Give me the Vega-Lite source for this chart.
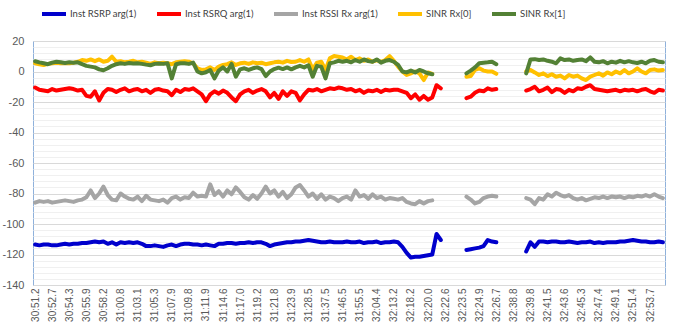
{
"$schema": "https://vega.github.io/schema/vega-lite/v6.json",
"width": 632, "height": 244,
"autosize": {"type": "none"},
"padding": {"left": 33, "top": 41, "right": 8, "bottom": 50},
"background": "white",
"config": {"view": {"stroke": "#8FB1DB", "strokeWidth": 1}, "font": "Liberation Sans"},
"data": {"values": [
{"t":"30:51.2","a":-113.5,"b":-10.5,"c":-86,"d":5.4,"e":6.7},
{"t":"30:51.6","a":-114,"b":-12,"c":-85,"d":4.8,"e":6},
{"t":"30:52.0","a":-113.5,"b":-12.5,"c":-85.5,"d":4.3,"e":5.4},
{"t":"30:52.3","a":-113.5,"b":-13,"c":-85,"d":5,"e":4.8},
{"t":"30:52.7","a":-114,"b":-11.5,"c":-86,"d":5.4,"e":5.8},
{"t":"30:53.1","a":-114,"b":-12.5,"c":-85.5,"d":5.8,"e":6.4},
{"t":"30:53.5","a":-113.5,"b":-12,"c":-85,"d":5.4,"e":6},
{"t":"30:53.9","a":-113,"b":-11.5,"c":-84.5,"d":5.6,"e":5.6},
{"t":"30:54.3","a":-113.5,"b":-11,"c":-85,"d":5.4,"e":6},
{"t":"30:54.7","a":-113,"b":-11.5,"c":-85.5,"d":5.8,"e":5.8},
{"t":"30:55.1","a":-113,"b":-12.5,"c":-84.5,"d":6.4,"e":6},
{"t":"30:55.5","a":-112.5,"b":-12,"c":-84,"d":7.5,"e":4.8},
{"t":"30:55.9","a":-112.5,"b":-16,"c":-82.5,"d":7,"e":3.7},
{"t":"30:56.5","a":-112,"b":-16.5,"c":-78,"d":7.9,"e":3.2},
{"t":"30:57.1","a":-111.5,"b":-13,"c":-83,"d":6.8,"e":2.7},
{"t":"30:57.6","a":-112,"b":-19,"c":-80,"d":7.9,"e":1.4},
{"t":"30:58.2","a":-111.5,"b":-14,"c":-75.5,"d":6.4,"e":0.8},
{"t":"30:58.9","a":-113,"b":-11.5,"c":-81,"d":7,"e":2.1},
{"t":"30:59.5","a":-112,"b":-12,"c":-84,"d":9.7,"e":3.7},
{"t":"31:00.2","a":-113.5,"b":-13.5,"c":-84.5,"d":6.4,"e":4.8},
{"t":"31:00.8","a":-112,"b":-12,"c":-80,"d":6.8,"e":5.4},
{"t":"31:01.4","a":-112.5,"b":-11,"c":-82,"d":6,"e":5},
{"t":"31:02.0","a":-112,"b":-13,"c":-83.5,"d":6.4,"e":5.6},
{"t":"31:02.5","a":-112.5,"b":-12,"c":-84,"d":7,"e":5.2},
{"t":"31:03.1","a":-112,"b":-11.5,"c":-82,"d":6,"e":5.4},
{"t":"31:03.7","a":-113,"b":-13,"c":-85,"d":6.4,"e":5},
{"t":"31:04.2","a":-114.5,"b":-12,"c":-81.5,"d":5.8,"e":4.5},
{"t":"31:04.8","a":-114.5,"b":-14,"c":-84,"d":5,"e":4.1},
{"t":"31:05.3","a":-114,"b":-12,"c":-84.5,"d":6,"e":5},
{"t":"31:06.0","a":-114.5,"b":-11.5,"c":-85,"d":5.4,"e":5.2},
{"t":"31:06.6","a":-115,"b":-12.5,"c":-84,"d":5.8,"e":5},
{"t":"31:07.3","a":-114,"b":-13,"c":-86,"d":5.4,"e":5.4},
{"t":"31:07.9","a":-113.5,"b":-15.5,"c":-83,"d":4.8,"e":-4.5},
{"t":"31:08.4","a":-114.5,"b":-12,"c":-82,"d":6,"e":4.8},
{"t":"31:08.9","a":-113.5,"b":-13.5,"c":-84,"d":6.4,"e":5.4},
{"t":"31:09.3","a":-113,"b":-11.5,"c":-82.5,"d":6.8,"e":5.4},
{"t":"31:09.8","a":-113,"b":-12,"c":-83,"d":6.4,"e":5},
{"t":"31:10.3","a":-113.5,"b":-11,"c":-79.5,"d":5.4,"e":5.8},
{"t":"31:10.9","a":-113.5,"b":-13,"c":-82,"d":2.1,"e":0},
{"t":"31:11.4","a":-114,"b":-15,"c":-81.5,"d":1,"e":-1.2},
{"t":"31:11.9","a":-113.5,"b":-19.5,"c":-82,"d":1.4,"e":-0.5},
{"t":"31:12.6","a":-114,"b":-15,"c":-74,"d":2.7,"e":1},
{"t":"31:13.3","a":-114.5,"b":-13,"c":-81,"d":1,"e":-4.5},
{"t":"31:13.9","a":-113,"b":-14.5,"c":-78.5,"d":3.2,"e":0.6},
{"t":"31:14.6","a":-113,"b":-12.5,"c":-82,"d":4.3,"e":2.7},
{"t":"31:15.2","a":-112.5,"b":-14,"c":-78,"d":4.8,"e":0},
{"t":"31:15.8","a":-112.5,"b":-17,"c":-80.5,"d":6,"e":5},
{"t":"31:16.4","a":-113,"b":-19.5,"c":-76,"d":4.3,"e":-3.4},
{"t":"31:17.0","a":-112.5,"b":-15,"c":-79,"d":5.4,"e":1.4},
{"t":"31:17.6","a":-112.5,"b":-13,"c":-82.5,"d":5.8,"e":2.1},
{"t":"31:18.1","a":-112,"b":-12,"c":-84,"d":5,"e":1},
{"t":"31:18.7","a":-112.5,"b":-14,"c":-81,"d":6,"e":2.1},
{"t":"31:19.2","a":-112,"b":-12.5,"c":-83.5,"d":5.4,"e":2.7},
{"t":"31:19.9","a":-112,"b":-11.5,"c":-80,"d":5.8,"e":1.6},
{"t":"31:20.5","a":-113,"b":-13,"c":-75.5,"d":4.8,"e":-3},
{"t":"31:21.2","a":-114.5,"b":-17,"c":-80,"d":5.4,"e":0},
{"t":"31:21.8","a":-113.5,"b":-14,"c":-78,"d":6,"e":1.6},
{"t":"31:22.3","a":-113,"b":-18,"c":-82,"d":6.4,"e":2.5},
{"t":"31:22.9","a":-112.5,"b":-13,"c":-79,"d":5.8,"e":1.6},
{"t":"31:23.4","a":-112,"b":-16,"c":-83,"d":7,"e":2.7},
{"t":"31:23.9","a":-112,"b":-13,"c":-80.5,"d":6.2,"e":1.4},
{"t":"31:25.1","a":-111.5,"b":-14,"c":-76,"d":6.4,"e":2.7},
{"t":"31:26.2","a":-111.5,"b":-19,"c":-74.5,"d":7.5,"e":3.7},
{"t":"31:27.4","a":-111,"b":-15,"c":-78,"d":6.4,"e":2.7},
{"t":"31:28.5","a":-110.5,"b":-12,"c":-82,"d":7.9,"e":4.1},
{"t":"31:30.8","a":-111,"b":-12.5,"c":-80,"d":1.4,"e":-3.4},
{"t":"31:33.0","a":-111.5,"b":-11.5,"c":-83.5,"d":5.8,"e":3.7},
{"t":"31:35.3","a":-112,"b":-13,"c":-80.5,"d":6.4,"e":3.2},
{"t":"31:37.5","a":-112,"b":-12,"c":-84,"d":1,"e":-4.5},
{"t":"31:39.8","a":-111.5,"b":-11,"c":-82,"d":8.6,"e":5.4},
{"t":"31:42.0","a":-112,"b":-11.5,"c":-83,"d":10.1,"e":6},
{"t":"31:44.3","a":-112,"b":-10.5,"c":-85,"d":9.7,"e":7},
{"t":"31:46.5","a":-112,"b":-11,"c":-83,"d":9.2,"e":6.4},
{"t":"31:48.8","a":-111.5,"b":-12,"c":-82,"d":7.9,"e":7},
{"t":"31:51.0","a":-112,"b":-11.5,"c":-84,"d":9.7,"e":6},
{"t":"31:53.3","a":-112,"b":-13,"c":-78,"d":7.5,"e":7.5},
{"t":"31:55.5","a":-111.5,"b":-12,"c":-82,"d":8.6,"e":6.4},
{"t":"31:57.7","a":-112.5,"b":-14,"c":-81,"d":7,"e":7.9},
{"t":"32:00.0","a":-112,"b":-12.5,"c":-83.5,"d":7.9,"e":6.8},
{"t":"32:02.2","a":-112,"b":-13,"c":-80.5,"d":6.4,"e":6.4},
{"t":"32:04.4","a":-111.5,"b":-12,"c":-83,"d":7.5,"e":7.9},
{"t":"32:06.6","a":-112.5,"b":-13.5,"c":-82,"d":6.4,"e":5.8},
{"t":"32:08.8","a":-112,"b":-12,"c":-84,"d":7.5,"e":7},
{"t":"32:11.0","a":-112,"b":-12.5,"c":-83,"d":10.1,"e":7.5},
{"t":"32:13.2","a":-111.5,"b":-12,"c":-83.5,"d":7,"e":6.4},
{"t":"32:14.5","a":-112,"b":-12,"c":-84,"d":3.2,"e":4.3},
{"t":"32:15.7","a":-115,"b":-13,"c":-83,"d":0,"e":0},
{"t":"32:17.0","a":-119,"b":-14,"c":-85.5,"d":-2.3,"e":-0.6},
{"t":"32:18.2","a":-122,"b":-17.5,"c":-86.5,"d":-1.2,"e":0.6},
{"t":"32:18.7","a":-121.5,"b":-15,"c":-87,"d":0,"e":-0.6},
{"t":"32:19.1","a":-121.5,"b":-18.5,"c":-85,"d":-1.2,"e":1},
{"t":"32:19.6","a":-121,"b":-16,"c":-86.5,"d":-5.6,"e":0},
{"t":"32:20.0","a":-120.5,"b":-18.5,"c":-85,"d":-0.6,"e":-1.2},
{"t":"32:20.7","a":-120,"b":-17,"c":-84.5,"d":-1.5,"e":-1.8},
{"t":"32:21.3","a":-106.5,"b":-9,"c":null,"d":null,"e":null},
{"t":"32:22.0","a":-110.5,"b":-11,"c":null,"d":null,"e":null},
{"t":"32:22.6","a":null,"b":null,"c":null,"d":null,"e":null},
{"t":"32:22.8","a":null,"b":null,"c":null,"d":null,"e":null},
{"t":"32:23.1","a":null,"b":null,"c":null,"d":null,"e":null},
{"t":"32:23.3","a":null,"b":null,"c":null,"d":null,"e":null},
{"t":"32:23.5","a":null,"b":null,"c":null,"d":null,"e":null},
{"t":"32:23.9","a":-117,"b":-17.5,"c":-82,"d":-3.4,"e":-1.2},
{"t":"32:24.2","a":-116.5,"b":-16.5,"c":-84,"d":-3,"e":0.6},
{"t":"32:24.6","a":-116,"b":-14,"c":-86.5,"d":1,"e":2.7},
{"t":"32:24.9","a":-115.5,"b":-12.5,"c":-85.5,"d":2.1,"e":5.4},
{"t":"32:25.4","a":-114.5,"b":-13,"c":-83,"d":0.6,"e":5.8},
{"t":"32:25.8","a":-110.5,"b":-11,"c":-82,"d":0,"e":6},
{"t":"32:26.3","a":-111.5,"b":-12,"c":-81.5,"d":0,"e":6.4},
{"t":"32:26.7","a":-112,"b":-11.5,"c":-82,"d":-1.5,"e":4.8},
{"t":"32:29.7","a":null,"b":null,"c":null,"d":null,"e":null},
{"t":"32:32.8","a":null,"b":null,"c":null,"d":null,"e":null},
{"t":"32:35.8","a":null,"b":null,"c":null,"d":null,"e":null},
{"t":"32:38.8","a":null,"b":null,"c":null,"d":null,"e":null},
{"t":"32:39.1","a":null,"b":null,"c":null,"d":null,"e":null},
{"t":"32:39.3","a":null,"b":null,"c":null,"d":null,"e":null},
{"t":"32:39.6","a":-118,"b":-12.5,"c":-83,"d":0,"e":-1.2},
{"t":"32:39.8","a":-112,"b":-11.5,"c":-84,"d":1,"e":7.9},
{"t":"32:40.2","a":-115,"b":-10,"c":-87,"d":-0.6,"e":8.1},
{"t":"32:40.7","a":-111.5,"b":-13,"c":-83,"d":-2.3,"e":7.5},
{"t":"32:41.1","a":-111.5,"b":-12,"c":-84,"d":-1.2,"e":7.9},
{"t":"32:41.5","a":-112,"b":-10.5,"c":-80.5,"d":-3,"e":7},
{"t":"32:42.0","a":-111.5,"b":-13.5,"c":-82,"d":-1.8,"e":6.4},
{"t":"32:42.6","a":-111.5,"b":-11.5,"c":-79.5,"d":-3.4,"e":5.4},
{"t":"32:43.1","a":-112,"b":-12,"c":-81,"d":-2.7,"e":8.6},
{"t":"32:43.6","a":-112,"b":-14,"c":-82,"d":-4.5,"e":7.5},
{"t":"32:44.0","a":-111.5,"b":-12,"c":-81,"d":-2.3,"e":7.9},
{"t":"32:44.5","a":-112,"b":-13,"c":-83,"d":-3.4,"e":7},
{"t":"32:44.9","a":-112.5,"b":-11,"c":-84,"d":-2.7,"e":7.5},
{"t":"32:45.3","a":-112,"b":-11.5,"c":-83,"d":-4.5,"e":7.9},
{"t":"32:45.8","a":-112,"b":-10,"c":-84.5,"d":-5.6,"e":6.8},
{"t":"32:46.4","a":-111.5,"b":-9,"c":-83.5,"d":-3.4,"e":9.2},
{"t":"32:46.9","a":-112.5,"b":-11.5,"c":-82.5,"d":-2.3,"e":6.4},
{"t":"32:47.4","a":-112,"b":-12,"c":-83,"d":-1.2,"e":6},
{"t":"32:47.8","a":-112.5,"b":-12.5,"c":-82,"d":-2.7,"e":6.8},
{"t":"32:48.3","a":-112,"b":-13,"c":-83,"d":-0.6,"e":5.4},
{"t":"32:48.7","a":-112,"b":-12.5,"c":-82,"d":-1.8,"e":6.4},
{"t":"32:49.1","a":-112,"b":-12,"c":-82.5,"d":0,"e":5.8},
{"t":"32:49.7","a":-111.5,"b":-13,"c":-82,"d":-1.2,"e":7},
{"t":"32:50.3","a":-111.5,"b":-12,"c":-83,"d":1,"e":6},
{"t":"32:50.8","a":-111,"b":-12.5,"c":-82,"d":-1.2,"e":6.8},
{"t":"32:51.4","a":-110.5,"b":-12,"c":-82.5,"d":0,"e":6},
{"t":"32:52.0","a":-111,"b":-13,"c":-81.5,"d":2.1,"e":5.6},
{"t":"32:52.6","a":-111.5,"b":-12,"c":-82,"d":0,"e":6.4},
{"t":"32:53.1","a":-111.5,"b":-11.5,"c":-81,"d":-1.2,"e":5.4},
{"t":"32:53.7","a":-112,"b":-13,"c":-82,"d":1,"e":7},
{"t":"32:54.3","a":-112,"b":-14,"c":-80.5,"d":1.4,"e":7.5},
{"t":"32:54.8","a":-111.5,"b":-12,"c":-82,"d":0.6,"e":6.4},
{"t":"32:55.4","a":-112,"b":-12.5,"c":-83,"d":1,"e":6}
]},
"transform": [
{"fold": ["a","b","c","d","e"], "as": ["k","v"]},
{"lookup": "k", "from": {"data": {"values": [
{"k":"a","name":"Inst RSRP arg(1)"},
{"k":"b","name":"Inst RSRQ arg(1)"},
{"k":"c","name":"Inst RSSI Rx arg(1)"},
{"k":"d","name":"SINR Rx[0]"},
{"k":"e","name":"SINR Rx[1]"}
]}, "key": "k", "fields": ["name"]}}
],
"mark": {"type": "line", "strokeWidth": 4, "strokeCap": "round", "strokeJoin": "round", "invalid": "break-paths-show-domains"},
"encoding": {
"x": {"field": "t", "type": "ordinal", "sort": null, "scale": {"type": "point", "padding": 0.5},
 "axis": {"values": ["30:51.2","30:52.7","30:54.3","30:55.9","30:58.2","31:00.8","31:03.1","31:05.3","31:07.9","31:09.8","31:11.9","31:14.6","31:17.0","31:19.2","31:21.8","31:23.9","31:28.5","31:37.5","31:46.5","31:55.5","32:04.4","32:13.2","32:18.2","32:20.0","32:22.6","32:23.5","32:24.9","32:26.7","32:38.8","32:39.8","32:41.5","32:43.6","32:45.3","32:47.4","32:49.1","32:51.4","32:53.7"],
 "labelAngle": -90, "labelFontSize": 10, "labelColor": "#595959", "labelFont": "Liberation Sans", "ticks": false, "domain": false, "grid": false, "title": null, "labelPadding": 3, "labelOverlap": false}},
"y": {"field": "v", "type": "quantitative", "scale": {"domain": [-140, 20], "nice": false, "zero": false},
 "axis": {"values": [-140,-136,-132,-128,-124,-120,-116,-112,-108,-104,-100,-96,-92,-88,-84,-80,-76,-72,-68,-64,-60,-56,-52,-48,-44,-40,-36,-32,-28,-24,-20,-16,-12,-8,-4,0,4,8,12,16,20],
 "labelExpr": "datum.value % 20 === 0 ? '' + datum.value : ''",
 "gridColor": {"condition": {"test": "datum.value % 20 === 0", "value": "#D9D9D9"}, "value": "#F0F0F0"},
 "ticks": false, "domain": false, "title": null, "labelFontSize": 11, "labelColor": "#595959", "labelFont": "Liberation Sans", "labelPadding": 9, "labelOverlap": false}},
"color": {"field": "name", "type": "nominal",
 "scale": {"domain": ["Inst RSRP arg(1)","Inst RSRQ arg(1)","Inst RSSI Rx arg(1)","SINR Rx[0]","SINR Rx[1]"], "range": ["#0000CC","#FF0000","#A5A5A5","#FFC000","#538135"]},
 "legend": {"orient": "none", "legendX": 7, "legendY": -41, "direction": "horizontal", "title": null, "symbolType": "stroke", "symbolStrokeWidth": 4, "symbolSize": 576, "labelFontSize": 9.5, "labelFont": "Lato", "labelColor": "#404040", "columnPadding": 12, "labelOffset": 2, "padding": 0}}
}
}
